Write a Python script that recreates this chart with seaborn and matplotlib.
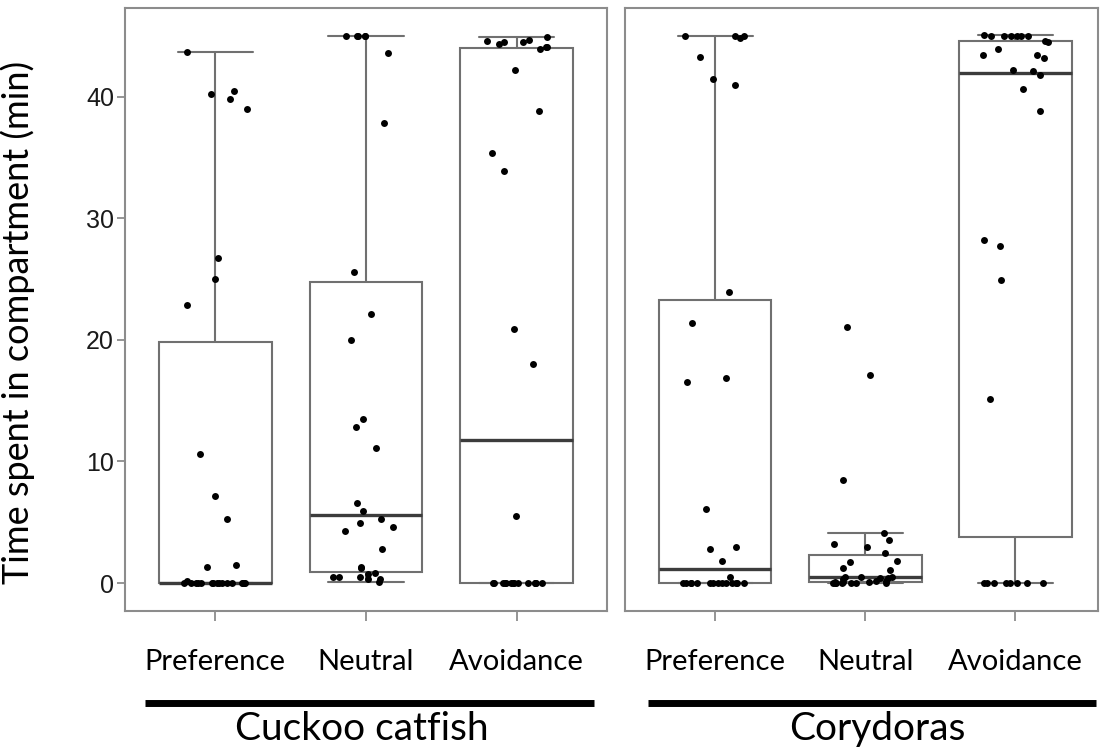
import numpy as np
import pandas as pd
import matplotlib
matplotlib.use("Agg")
import matplotlib.pyplot as plt
import seaborn as sns

# ---------------- data ----------------
categories = ["Preference", "Neutral", "Avoidance"]
species = ["Cuckoo catfish", "Corydoras"]
ytick_values = [0, 10, 20, 30, 40]
y_label = "Time spent in compartment (min)"

cuckoo_preference = [43.7, 40.5, 40.2, 39.8, 39.0, 26.7, 25.0, 22.9, 10.6, 7.2,
                     5.3, 1.5, 1.3, 0.2, 0.0, 0.0, 0.0, 0.0, 0.0, 0.0,
                     0.0, 0.0, 0.0, 0.0, 0.0, 0.0, 0.0, 0.0, 0.0, 0.0]
cuckoo_neutral = [45.0, 45.0, 45.0, 45.0, 45.0, 43.6, 37.8, 25.6, 22.1, 20.0,
                  13.5, 12.8, 11.1, 6.6, 5.9, 5.3, 4.9, 4.6, 4.3, 2.8,
                  1.3, 1.2, 0.8, 0.75, 0.5, 0.5, 0.5, 0.35, 0.3, 0.1]
cuckoo_avoidance = [44.9, 44.7, 44.6, 44.5, 44.5, 44.3, 44.1, 44.1, 43.9, 42.2,
                    38.8, 35.4, 33.9, 20.9, 18.0, 5.5, 0.0, 0.0, 0.0, 0.0,
                    0.0, 0.0, 0.0, 0.0, 0.0, 0.0, 0.0, 0.0, 0.0, 0.0]
cory_preference = [45.0, 45.0, 45.0, 44.8, 43.3, 41.5, 41.0, 23.9, 21.4, 16.9,
                   16.5, 6.1, 3.0, 2.8, 1.8, 0.5, 0.0, 0.0, 0.0, 0.0,
                   0.0, 0.0, 0.0, 0.0, 0.0, 0.0, 0.0, 0.0, 0.0, 0.0]
cory_neutral = [21.1, 17.1, 8.5, 4.1, 3.5, 3.2, 3.0, 2.5, 1.8, 1.7,
                1.2, 1.1, 0.5, 0.5, 0.5, 0.45, 0.4, 0.3, 0.2, 0.15,
                0.1, 0.1, 0.05, 0.0, 0.0, 0.0, 0.0, 0.0, 0.0, 0.0]
cory_avoidance = [45.1, 45.0, 45.0, 45.0, 45.0, 45.0, 45.0, 44.6, 44.5, 43.9,
                  43.4, 43.4, 43.2, 42.2, 42.1, 41.8, 40.6, 38.8, 28.2, 27.7,
                  24.9, 15.1, 0.0, 0.0, 0.0, 0.0, 0.0, 0.0, 0.0, 0.0]

series = {
    ("Cuckoo catfish", "Preference"): cuckoo_preference,
    ("Cuckoo catfish", "Neutral"): cuckoo_neutral,
    ("Cuckoo catfish", "Avoidance"): cuckoo_avoidance,
    ("Corydoras", "Preference"): cory_preference,
    ("Corydoras", "Neutral"): cory_neutral,
    ("Corydoras", "Avoidance"): cory_avoidance,
}
rows = []
for (sp, cat), vals in series.items():
    for v in vals:
        rows.append({"species": sp, "category": cat, "value": v})
df = pd.DataFrame(rows)

# ---------------- style ----------------
sns.set_theme(style="white")
plt.rcParams["font.family"] = ["Lato", "DejaVu Sans"]

W, H = 1103, 751
fig = plt.figure(figsize=(W / 100, H / 100), dpi=100)
fig.patch.set_facecolor("white")

ax1 = fig.add_axes([125 / W, 1 - 611 / H, 482 / W, 603 / H])
ax2 = fig.add_axes([625 / W, 1 - 611 / H, 473 / W, 603 / H])
axes = [ax1, ax2]
xlims = [(-0.6, 2.6), (-0.6, 2.55)]

frame_col = "#8c8c8c"
box_col = "#707070"

np.random.seed(7)
for ax, sp, xl in zip(axes, species, xlims):
    sub = df[df["species"] == sp]
    sns.boxplot(data=sub, x="category", y="value", order=categories, ax=ax,
                color="white", linecolor=box_col, linewidth=1.5, width=0.75,
                showfliers=False, whis=1.5, capwidths=0.5,
                medianprops={"color": "#3c3c3c", "linewidth": 2.4})
    sns.stripplot(data=sub, x="category", y="value", order=categories, ax=ax,
                  color="black", size=5, jitter=0.22, linewidth=0, zorder=5)
    ax.set_xlim(*xl)
    ax.set_ylim(-2.3, 47.3)
    ax.set_xlabel("")
    ax.set_ylabel("")
    for s in ax.spines.values():
        s.set_visible(True)
        s.set_color(frame_col)
        s.set_linewidth(1.5)
    ax.tick_params(axis="x", bottom=True, length=7, width=1.3, color=frame_col,
                   pad=20, labelsize=21, labelcolor="black")
    ax.set_xticks(range(len(categories)))
    ax.set_xticklabels(categories)
    # species line and label
    x0, x1 = (0.0415, 0.973) if sp == species[0] else (0.0486, 0.996)
    ax.plot([x0, x1], [-0.1526, -0.1526], transform=ax.transAxes,
            color="black", lw=5, clip_on=False, solid_capstyle="butt")
    ax.text(0.492 if sp == species[0] else 0.533, -0.195, sp,
            transform=ax.transAxes, ha="center", va="center", fontsize=28,
            color="black")

ax1.set_yticks(ytick_values)
ax1.tick_params(axis="y", left=True, length=6, width=1.3, color=frame_col,
                labelsize=18, labelcolor="#1a1a1a", pad=2)
for lab in ax1.get_yticklabels():
    lab.set_fontfamily(["Liberation Sans", "DejaVu Sans"])
ax2.set_yticks(ytick_values)
ax2.tick_params(axis="y", left=False, labelleft=False)

ax1.set_ylabel(y_label, fontsize=26, color="black")
ax1.yaxis.set_label_coords(-0.186, 0.479)

fig.savefig("out.png", dpi=100, facecolor="white")
